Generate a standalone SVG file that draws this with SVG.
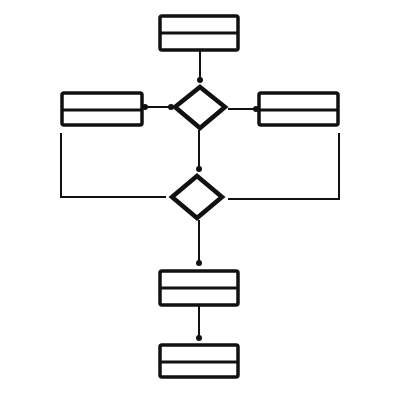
<svg xmlns="http://www.w3.org/2000/svg" width="400" height="400" viewBox="0 0 400 400">
<style>
.box{fill:#fff;stroke:#111;stroke-width:3.5;stroke-linejoin:round}
.div{stroke:#111;stroke-width:3;fill:none}
.dia{fill:#fff;stroke:#111;stroke-width:4.5;stroke-linejoin:miter}
.con{stroke:#111;stroke-width:2;fill:none}
.dot{fill:#111}
</style>
<rect width="400" height="400" fill="#fff"/>
<g id="connectors">
<line class="con" x1="200" y1="50" x2="200" y2="80"/>
<circle class="dot" cx="200" cy="80" r="3"/>
<line class="con" x1="142" y1="107" x2="171" y2="107"/>
<circle class="dot" cx="145" cy="107" r="3"/>
<circle class="dot" cx="171" cy="107" r="3"/>
<line class="con" x1="228" y1="109" x2="259" y2="109"/>
<circle class="dot" cx="256" cy="109" r="3"/>
<line class="con" x1="199" y1="130" x2="199" y2="169"/>
<circle class="dot" cx="199" cy="169" r="3"/>
<polyline class="con" points="61,133 61,197 166,197"/>
<polyline class="con" points="339,133 339,199 228,199"/>
<line class="con" x1="199" y1="220" x2="199" y2="263"/>
<circle class="dot" cx="199" cy="263" r="3"/>
<line class="con" x1="199" y1="305" x2="199" y2="338"/>
<circle class="dot" cx="199" cy="338" r="3"/>
</g>
<g id="box-top">
<rect class="box" x="160" y="16" width="78" height="34" rx="2"/>
<line class="div" x1="160" y1="33" x2="238" y2="33"/>
</g>
<g id="decision-1">
<polygon class="dia" points="200,87 225,107 200,128 175,107"/>
</g>
<g id="box-left">
<rect class="box" x="62" y="93" width="80" height="32" rx="2"/>
<line class="div" x1="62" y1="110" x2="142" y2="110"/>
</g>
<g id="box-right">
<rect class="box" x="259" y="93" width="79" height="32" rx="2"/>
<line class="div" x1="259" y1="110" x2="338" y2="110"/>
</g>
<g id="decision-2">
<polygon class="dia" points="197,176 222,197 197,218 172,197"/>
</g>
<g id="box-3">
<rect class="box" x="160" y="271" width="78" height="34" rx="2"/>
<line class="div" x1="160" y1="288" x2="238" y2="288"/>
</g>
<g id="box-4">
<rect class="box" x="160" y="345" width="78" height="32" rx="2"/>
<line class="div" x1="160" y1="362" x2="238" y2="362"/>
</g>
</svg>
